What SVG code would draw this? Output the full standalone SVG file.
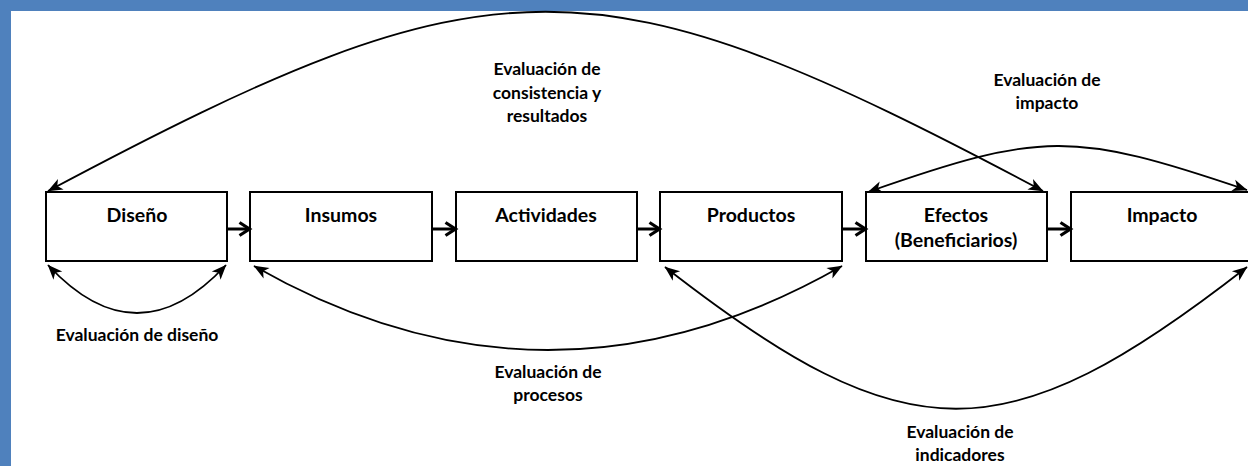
<svg xmlns="http://www.w3.org/2000/svg" width="1248" height="466" viewBox="0 0 1248 466">
<style>
.box{fill:#fff;stroke:#000;stroke-width:2}
.bl{font-family:Lato,"Liberation Sans",sans-serif;font-weight:bold;font-size:19.5px;fill:#000;text-anchor:middle}
.ev{font-family:Lato,"Liberation Sans",sans-serif;font-weight:bold;font-size:17.5px;fill:#000;text-anchor:middle}
.flow{fill:none;stroke:#000;stroke-width:3;marker-end:url(#chev)}
.eval{fill:none;stroke:#000;stroke-width:1.8;marker-start:url(#head);marker-end:url(#head)}
</style>
<defs>
<marker id="chev" viewBox="0 0 14 16" refX="12.5" refY="8" markerWidth="14" markerHeight="16" markerUnits="userSpaceOnUse" orient="auto" overflow="visible">
<path d="M2,1.5 L12,8 L2,14.5" fill="none" stroke="#000" stroke-width="3.2"/>
</marker>
<marker id="head" viewBox="0 0 15 12" refX="14.5" refY="6" markerWidth="15" markerHeight="12" markerUnits="userSpaceOnUse" orient="auto-start-reverse" overflow="visible">
<path d="M0,0 L15,6 L0,12 L4,6 Z" fill="#000"/>
</marker>
</defs>
<rect x="0" y="0" width="1248" height="466" fill="#fff"/>
<rect x="0" y="0" width="1248" height="11" fill="#4F81BD"/>
<rect x="0" y="0" width="11" height="466" fill="#4F81BD"/>

<g id="node-diseno">
<rect class="box" x="46" y="192" width="181" height="69"/>
<text class="bl" x="137" y="222">Diseño</text>
</g>
<g id="node-insumos">
<rect class="box" x="250" y="192" width="182" height="69"/>
<text class="bl" x="341" y="222">Insumos</text>
</g>
<g id="node-actividades">
<rect class="box" x="456" y="192" width="181" height="69"/>
<text class="bl" x="546" y="222">Actividades</text>
</g>
<g id="node-productos">
<rect class="box" x="660" y="192" width="182" height="69"/>
<text class="bl" x="751" y="222">Productos</text>
</g>
<g id="node-efectos">
<rect class="box" x="866" y="192" width="181" height="69"/>
<text class="bl" x="956" y="222">Efectos</text>
<text class="bl" x="956" y="247">(Beneficiarios)</text>
</g>
<g id="node-impacto">
<rect class="box" x="1071" y="192" width="182" height="69"/>
<text class="bl" x="1162" y="222">Impacto</text>
</g>

<g id="connectors">
<path class="flow" d="M228,229 H250"/>
<path class="flow" d="M433,229 H456"/>
<path class="flow" d="M638,229 H660"/>
<path class="flow" d="M843,229 H866"/>
<path class="flow" d="M1048,229 H1071"/>
<path class="eval" d="M48,191 C497,-48 594,-48 1043,191"/>
<path class="eval" d="M868,192 C1042,131 1073,131 1247,190"/>
<path class="eval" d="M48,265 Q137,361 226,265"/>
<path class="eval" d="M254,266 Q548,434 842,266"/>
<path class="eval" d="M665,267 C907,456 1005,456 1247,267"/>
</g>

<g id="labels">
<text class="ev" x="547" y="75">Evaluación de</text>
<text class="ev" x="547" y="99">consistencia y</text>
<text class="ev" x="547" y="122">resultados</text>
<text class="ev" x="1047" y="86">Evaluación de</text>
<text class="ev" x="1047" y="109">impacto</text>
<text class="ev" x="137" y="341">Evaluación de diseño</text>
<text class="ev" x="548" y="378">Evaluación de</text>
<text class="ev" x="548" y="401">procesos</text>
<text class="ev" x="960" y="438">Evaluación de</text>
<text class="ev" x="960" y="461">indicadores</text>
</g>
</svg>
